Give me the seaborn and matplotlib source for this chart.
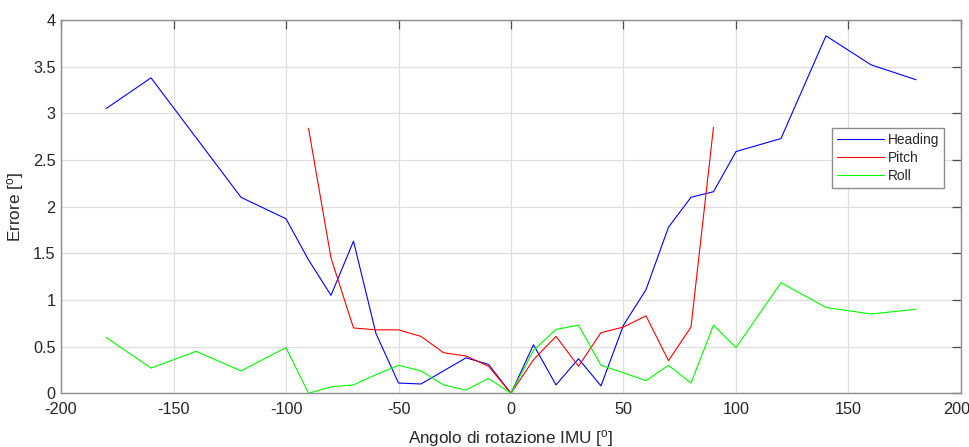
import numpy as np
import pandas as pd
import matplotlib
matplotlib.use("Agg")
import matplotlib.pyplot as plt
import matplotlib.transforms as mtransforms
import seaborn as sns

# IMU error versus rotation angle
angles = [-180, -160, -140, -120, -100, -90, -80, -70, -60, -50, -40, -30, -20, -10,
          0, 10, 20, 30, 40, 50, 60, 70, 80, 90, 100, 120, 140, 160, 180]
heading = [3.05, 3.38, 2.74, 2.10, 1.87, 1.43, 1.05, 1.63, 0.64, 0.11, 0.10, 0.24, 0.38, 0.31,
           0.0, 0.52, 0.09, 0.37, 0.08, 0.73, 1.11, 1.78, 2.10, 2.16, 2.59, 2.73, 3.83, 3.52, 3.36]
roll = [0.60, 0.27, 0.45, 0.24, 0.49, 0.0, 0.07, 0.09, 0.20, 0.30, 0.24, 0.09, 0.035, 0.16,
        0.0, 0.46, 0.685, 0.73, 0.30, 0.22, 0.135, 0.30, 0.11, 0.73, 0.49, 1.185, 0.92, 0.85, 0.90]
pitch_angles = [-90, -80, -70, -60, -50, -40, -30, -20, -10, 0, 10, 20, 30, 40, 50, 60, 70, 80, 90]
pitch = [2.84, 1.45, 0.70, 0.68, 0.68, 0.61, 0.435, 0.40, 0.29, 0.0, 0.36, 0.61, 0.29, 0.65,
         0.71, 0.83, 0.35, 0.71, 2.85]

series_names = ["Heading", "Pitch", "Roll"]
series_colors = ["#0000ff", "#ff0000", "#00ff00"]

df = pd.concat([
    pd.DataFrame({"angle": angles, "err": heading, "series": "Heading"}),
    pd.DataFrame({"angle": pitch_angles, "err": pitch, "series": "Pitch"}),
    pd.DataFrame({"angle": angles, "err": roll, "series": "Roll"}),
], ignore_index=True)

sns.set_style("white")
plt.rcParams["font.family"] = ["Liberation Sans", "DejaVu Sans"]
plt.rcParams["mathtext.fontset"] = "custom"
plt.rcParams["mathtext.rm"] = "Liberation Sans"
plt.rcParams["mathtext.it"] = "Liberation Sans"

text_col = "#262626"
fig = plt.figure(figsize=(9.7, 4.47), dpi=100)
ax = fig.add_axes([0.0629, 0.1201, 0.9278, 0.8352])

sns.lineplot(data=df, x="angle", y="err", hue="series", hue_order=series_names,
             palette=series_colors, estimator=None, sort=True, linewidth=0.8,
             ax=ax, legend=True)

ax.set_xlim(-200, 200)
ax.set_ylim(0, 4)
ax.set_xticks(np.arange(-200, 201, 50))
ax.set_yticks(np.arange(0, 4.01, 0.5))
ax.set_xticklabels([f"{v:g}" for v in np.arange(-200, 201, 50)])
ax.set_yticklabels([f"{v:g}" for v in np.arange(0, 4.01, 0.5)])

ax.grid(True, color="#dedede", linewidth=0.9)
ax.set_axisbelow(True)
for s in ax.spines.values():
    s.set_visible(True)
    s.set_color("#8c8c8c")
    s.set_linewidth(1.0)
ax.tick_params(axis="both", which="both", direction="in", length=6.5, width=0.9,
               color="#4d4d4d", labelsize=11.7, labelcolor=text_col,
               top=True, right=True)
ax.tick_params(axis="y", pad=4)
ax.tick_params(axis="x", pad=6)

# nudge the rightmost tick label so it stays inside the figure
last = ax.get_xticklabels()[-1]
last.set_transform(last.get_transform() +
                   mtransforms.ScaledTranslation(-4 / 100, 0, fig.dpi_scale_trans))

ax.set_xlabel(r"Angolo di rotazione IMU [$^{\rm o}$]", fontsize=12.3, color=text_col, labelpad=8)
ax.set_ylabel(r"Errore [$^{\rm o}$]", fontsize=12.3, color=text_col, labelpad=5)

leg = ax.legend(loc="upper right", bbox_to_anchor=(0.981, 0.711), fontsize=9.9,
                frameon=True, fancybox=False, edgecolor="#8c8c8c", framealpha=1,
                handlelength=3.4, handletextpad=0.3, labelspacing=0.3,
                borderpad=0.35, borderaxespad=0)
leg.get_frame().set_linewidth(1.0)
for t in leg.get_texts():
    t.set_color(text_col)

fig.savefig("out.png", dpi=100)
